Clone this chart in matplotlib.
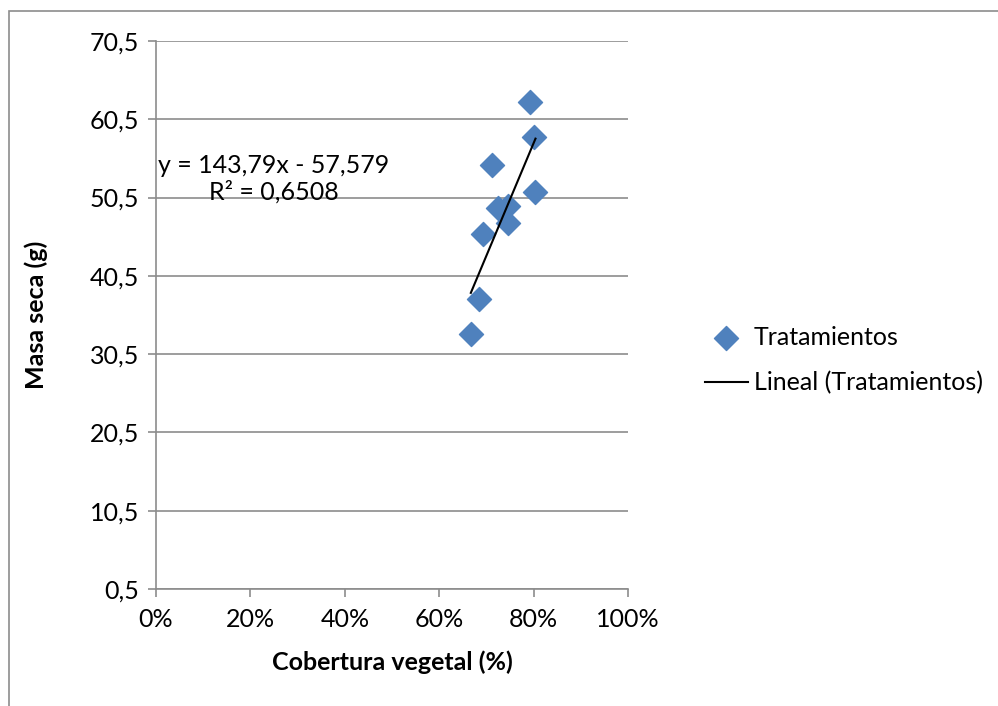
import matplotlib.pyplot as plt
from matplotlib.patches import Rectangle
from matplotlib.ticker import FuncFormatter

# datos
cobertura = [0.792, 0.801, 0.711, 0.804, 0.725, 0.745, 0.746, 0.693, 0.684, 0.667]
masa_seca = [62.75, 58.2, 54.7, 51.2, 49.2, 49.4, 47.3, 45.8, 37.5, 33.1]
pendiente = 143.79
intercepto = -57.579
y_ticks = [0.5, 10.5, 20.5, 30.5, 40.5, 50.5, 60.5, 70.5]
x_ticks = [0, 0.2, 0.4, 0.6, 0.8, 1.0]

plt.rcParams['font.family'] = ['Lato', 'DejaVu Sans']
fs = 18

fig = plt.figure(figsize=(9.98, 7.06), dpi=100)
ax = fig.add_axes([156/998, 1-589/706, (628-156)/998, (589-41)/706])

# borde exterior del grafico (solo izquierda y arriba se ven)
fig.patches.append(Rectangle((9/998, -0.1), 1.2, 1.1-11/706, transform=fig.transFigure,
                             fill=False, edgecolor='#8c8c8c', linewidth=1.2))

ax.scatter(cobertura, masa_seca, marker='D', s=150, color='#4F81BD', zorder=3,
           label='Tratamientos')

x0, x1 = min(cobertura), max(cobertura)
ax.plot([x0, x1], [pendiente*x0 + intercepto, pendiente*x1 + intercepto],
        color='black', linewidth=1.5, zorder=4, label='Lineal (Tratamientos)')

ax.set_xlim(0, 1)
ax.set_ylim(0.5, 70.5)
ax.set_xticks(x_ticks)
ax.set_yticks(y_ticks)
ax.xaxis.set_major_formatter(FuncFormatter(lambda v, p: f"{v*100:.0f}%"))
ax.yaxis.set_major_formatter(FuncFormatter(lambda v, p: f"{v:.1f}".replace('.', ',')))
ax.grid(axis='y', color='#8c8c8c', linewidth=1.2)
ax.set_axisbelow(True)
for s in ['top', 'right']:
    ax.spines[s].set_visible(False)
for s in ['left', 'bottom']:
    ax.spines[s].set_color('#8c8c8c')
    ax.spines[s].set_linewidth(1.2)
ax.tick_params(axis='both', colors='#8c8c8c', labelcolor='black', labelsize=fs,
               length=6, width=1.2)
ax.tick_params(axis='x', pad=8)
ax.tick_params(axis='y', pad=6)

ax.set_xlabel('Cobertura vegetal (%)', fontsize=fs, fontweight='bold', labelpad=14)
ax.set_ylabel('Masa seca (g)', fontsize=fs, fontweight='bold', labelpad=30)

ax.text(0.005, 52.9, 'y = 143,79x - 57,579\nR² = 0,6508', fontsize=fs,
        ha='left', va='center', multialignment='center', linespacing=1.2, zorder=5)

fig.legend(loc='center left', bbox_to_anchor=(705/998, 1-360/706), frameon=False,
           fontsize=fs, handlelength=1.7, handletextpad=0.25, labelspacing=0.9,
           borderpad=0, borderaxespad=0)

fig.savefig('out.png', dpi=100)
